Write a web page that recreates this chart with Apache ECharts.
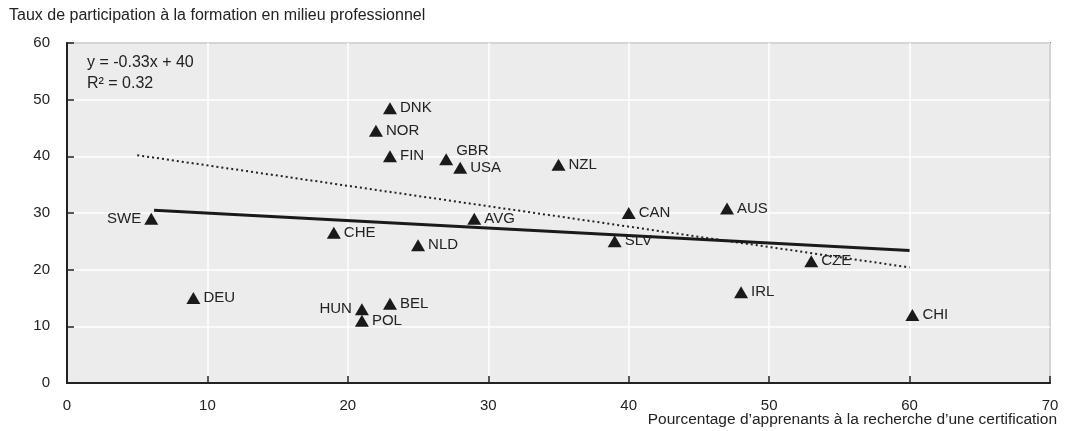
<!DOCTYPE html>
<html><head><meta charset="utf-8">
<script src="https://cdn.jsdelivr.net/npm/echarts@6/dist/echarts.min.js"></script>
<style>html,body{margin:0;padding:0;background:#fff}#c{width:1066px;height:431px}</style>
</head><body><div id="c"></div>
<script>
const countries = ['DNK','NOR','FIN','GBR','USA','NZL','SWE','CHE','NLD','AVG','CAN','SLV','AUS','CZE','IRL','CHI','DEU','HUN','POL','BEL'];
const xValues = [23,22,23,27,28,35,6,19,25,29,40,39,47,53,48,60.2,9,21,21,23];
const yValues = [48.5,44.5,40,39.5,38,38.5,29,26.5,24.3,29,30,25,30.8,21.5,16,12,15,13,11,14];
const labelLeft = ['SWE','HUN'];
const labelRaised = ['GBR'];
const trendSolid = [[6.2,30.5],[60,23.4]];
const trendDotted = [[5,40.2],[60,20.4]];
const xTicks = [0,10,20,30,40,50,60,70];
const yTicks = [0,10,20,30,40,50,60];
const titleText = 'Taux de participation à la formation en milieu professionnel';
const xName = 'Pourcentage d\u2019apprenants à la recherche d\u2019une certification';
const eqLines = ['y = -0.33x + 40', 'R² = 0.32'];

const FONT = '"Liberation Sans Narrow","Arial Narrow","Liberation Sans",sans-serif';
const chart = echarts.init(document.getElementById('c'));
const pts = countries.map((c,i)=>({
  value:[xValues[i], yValues[i]], name:c,
  label:{position: labelLeft.includes(c)?'left':'right', offset: labelRaised.includes(c)?[0,-8]:[0,0]}
}));
chart.setOption({
  animation:false,
  textStyle:{fontFamily:FONT},
  title:{text:titleText,left:4,top:3,textStyle:{fontFamily:FONT,fontSize:16,fontWeight:'normal',color:'#222'}},
  grid:{left:67,right:16,top:43,bottom:48,outerBoundsMode:'none',containLabel:false,show:true,backgroundColor:'#ececec',borderColor:'#222',borderWidth:1.5},
  xAxis:{type:'value',min:xTicks[0],max:xTicks[xTicks.length-1],interval:10,
    axisLine:{show:true,lineStyle:{color:'#222',width:2}},
    axisTick:{show:true,inside:true,length:7,lineStyle:{color:'#222',width:1.5}},
    axisLabel:{fontFamily:FONT,fontSize:15,color:'#222',margin:15},
    splitLine:{show:true,lineStyle:{color:'#fff',width:1.5}}},
  yAxis:{type:'value',min:yTicks[0],max:yTicks[yTicks.length-1],interval:10,
    axisLine:{show:true,lineStyle:{color:'#222',width:2}},
    axisTick:{show:true,inside:true,length:7,lineStyle:{color:'#222',width:1.5}},
    axisLabel:{fontFamily:FONT,fontSize:15,color:'#222',margin:17},
    splitLine:{show:true,lineStyle:{color:'#fff',width:1.5}}},
  graphic:[
    {type:'text',left:87,top:52,z:10,style:{text:eqLines.join('\n'),font:'16px '+FONT,fill:'#222',lineHeight:21}},
    {type:'text',right:9,top:412,z:10,style:{text:xName,font:'15.5px '+FONT,fill:'#222'}}
  ],
  series:[
    {type:'line',data:trendDotted,symbol:'none',lineStyle:{color:'#222',width:2,type:[2,3]},z:2},
    {type:'line',data:trendSolid,symbol:'none',lineStyle:{color:'#1a1a1a',width:3},z:2},
    {type:'scatter',data:pts,symbol:'triangle',symbolSize:[14,12],itemStyle:{color:'#1a1a1a',opacity:1},z:3,
     label:{show:true,formatter:p=>p.name,fontFamily:FONT,fontSize:15,color:'#222',distance:3}}
  ]
});
</script></body></html>
